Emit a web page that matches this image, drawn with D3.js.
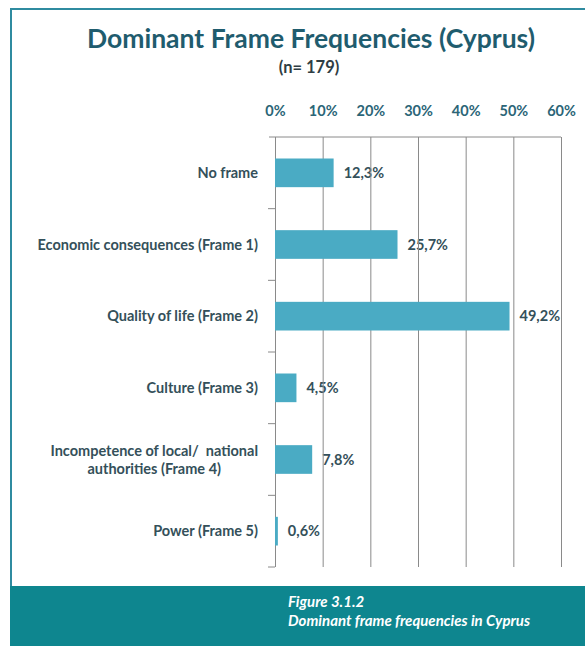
<!DOCTYPE html>
<html>
<head>
<meta charset="utf-8">
<script src="https://cdn.jsdelivr.net/npm/d3@7"></script>
<style>
  body { margin: 0; background: #fff; }
  svg { display: block; font-family: Lato, "Open Sans", sans-serif; }
</style>
</head>
<body>
<svg id="chart" width="585" height="646"></svg>
<script>
var categories = [
    ["No frame"],
    ["Economic consequences (Frame 1)"],
    ["Quality of life (Frame 2)"],
    ["Culture (Frame 3)"],
    ["Incompetence of local/  national", "authorities (Frame 4)"],
    ["Power (Frame 5)"]
]
var values = [12.3, 25.7, 49.2, 4.5, 7.8, 0.6]
var valueLabels = ["12,3%", "25,7%", "49,2%", "4,5%", "7,8%", "0,6%"]
var tickValues = [0, 10, 20, 30, 40, 50, 60]

var svg = d3.select("#chart")

// frame + caption band
svg.append("rect")
    .attr("x", 11).attr("y", 9)
    .attr("width", 590).attr("height", 660)
    .attr("fill", "none")
    .attr("stroke", "#2f8ba0")
    .attr("stroke-width", 2)

svg.append("rect")
    .attr("x", 10).attr("y", 586)
    .attr("width", 575).attr("height", 60)
    .attr("fill", "#0e868f")

svg.append("text")
    .attr("x", 311).attr("y", 48)
    .attr("text-anchor", "middle")
    .attr("font-size", "26.5px")
    .attr("font-weight", "bold")
    .attr("fill", "#1f5c6e")
    .text("Dominant Frame Frequencies (Cyprus)")

svg.append("text")
    .attr("x", 309).attr("y", 73)
    .attr("text-anchor", "middle")
    .attr("font-size", "16.5px")
    .attr("font-weight", "bold")
    .attr("fill", "#2e3d44")
    .text("(n= 179)")

var x = d3.scaleLinear().domain([0, 60]).range([275, 561])
var y = d3.scaleBand()
    .domain(d3.range(values.length))
    .range([137, 567])
    .paddingInner(0.6)
    .paddingOuter(0.3)
var step = y.step()

// value labels first, the grid runs over them
svg.append("g").selectAll("text")
    .data(values)
    .enter().append("text")
    .attr("x", function (d) { return x(d) + 10; })
    .attr("y", function (d, i) { return y(i) + y.bandwidth() / 2; })
    .attr("dy", "0.35em")
    .attr("font-size", "14.5px")
    .attr("font-weight", "bold")
    .attr("fill", "#34505a")
    .text(function (d, i) { return valueLabels[i]; })

// top axis with gridlines
var gx = svg.append("g")
    .attr("transform", "translate(0,137)")
    .call(d3.axisTop(x).tickValues(tickValues)
        .tickSize(6)
        .tickFormat(function (d) { return d + "%"; }))
gx.select(".domain").attr("d", "M269,0H561").attr("stroke", "#8a8a8a")
gx.selectAll(".tick line").attr("stroke", "#8a8a8a").attr("y2", 430)
gx.selectAll(".tick text")
    .attr("font-family", "Lato, sans-serif")
    .attr("font-size", "14.5px")
    .attr("font-weight", "bold")
    .attr("fill", "#2b6577")
    .attr("y", -21)

// category axis: ticks between the bands
var bounds = d3.range(values.length + 1).map(function (i) { return 137 + i * step; })
svg.append("g").selectAll("line")
    .data(bounds.slice(1))
    .enter().append("line")
    .attr("x1", 268).attr("x2", 275)
    .attr("y1", function (d) { return d; })
    .attr("y2", function (d) { return d; })
    .attr("stroke", "#8a8a8a")

svg.append("g").selectAll("rect")
    .data(values)
    .enter().append("rect")
    .attr("x", x(0))
    .attr("y", function (d, i) { return y(i); })
    .attr("width", function (d) { return x(d) - x(0); })
    .attr("height", y.bandwidth())
    .attr("fill", "#4aabc4")

var labels = svg.append("g").selectAll("text")
    .data(categories)
    .enter().append("text")
    .attr("y", function (d, i) { return y(i) + y.bandwidth() / 2; })
    .attr("text-anchor", "middle")
    .attr("font-size", "14.5px")
    .attr("font-weight", "bold")
    .attr("fill", "#34505a")
    .style("white-space", "pre")
labels.selectAll("tspan")
    .data(function (d) { return d; })
    .enter().append("tspan")
    .attr("dy", function (d, j, n) { return j == 0 ? (0.35 - (n.length - 1) * 0.6) + "em" : "1.25em"; })
    .text(function (d) { return d; })
// lines centred on the first line, which is right-aligned to the axis
labels.each(function () {
    var spans = d3.select(this).selectAll("tspan")
    var w = spans.nodes()[0].getComputedTextLength()
    spans.attr("x", 258 - w / 2)
})

svg.append("text")
    .attr("x", 288).attr("y", 607)
    .attr("font-size", "15px")
    .attr("font-weight", "bold")
    .attr("font-style", "italic")
    .attr("fill", "#fff")
    .text("Figure 3.1.2")
svg.append("text")
    .attr("x", 288).attr("y", 626)
    .attr("font-size", "15px")
    .attr("font-weight", "bold")
    .attr("font-style", "italic")
    .attr("fill", "#fff")
    .text("Dominant frame frequencies in Cyprus")
</script>
</body>
</html>
